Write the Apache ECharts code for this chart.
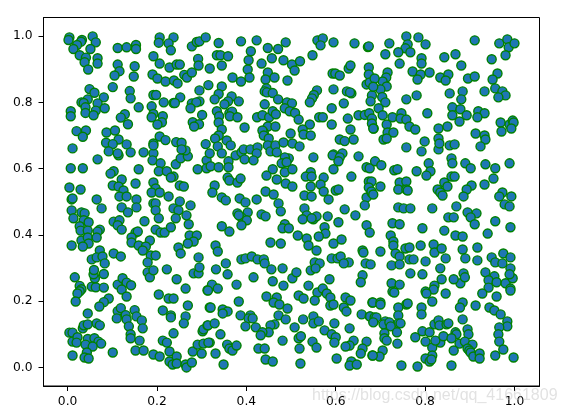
<!DOCTYPE html>
<html>
<head>
<meta charset="utf-8">
<style>
html,body{margin:0;padding:0;background:#fff}
#chart{width:565px;height:414px}
</style>
<script src="https://cdn.jsdelivr.net/npm/echarts@6/dist/echarts.min.js"></script>
</head>
<body>
<div id="chart"></div>
<script>

// values, region by region
const topLeft = [[.004,.996],[.002,.988],[.032,.988],[.030,.983],[.056,.999],[.063,.981],[.021,.973],[.013,.961],[.051,.961],[.027,.942],[.041,.935],[.038,.921],[.067,.933],[.067,.917],[.046,.899],[.112,.964],[.132,.966],[.153,.973],[.153,.961],[.112,.914],[.150,.909],[.116,.894],[.105,.881],[.148,.878],[.101,.846],[.139,.834],[.141,.812],[.159,.785],[.128,.764],[.119,.754],[.135,.734],[.206,.996],[.204,.980],[.237,.996],[.226,.978],[.231,.957],[.192,.939],[.206,.917],[.228,.905],[.244,.914],[.251,.914],[.190,.884],[.201,.872],[.219,.863],[.238,.866],[.246,.857],[.261,.883],[.267,.875],[.278,.890],[.292,.931],[.293,.911],[.278,.969],[.289,.982],[.295,.984],[.309,.996],[.295,.836],[.049,.840],[.060,.829],[.081,.815],[.045,.809],[.031,.800],[.036,.798],[.067,.797],[.083,.782],[.040,.785],[.007,.773],[.007,.758],[.040,.768],[.063,.775],[.058,.761],[.192,.822],[.198,.822],[.215,.800],[.252,.815],[.237,.798],[.240,.798],[.188,.788],[.278,.797],[.295,.803],[.288,.800],[.275,.782],[.301,.762],[.192,.765],[.188,.755],[.213,.758],[.211,.740],[.201,.733],[.280,.740],[.294,.734],[.283,.727],[.020,.713],[.041,.715],[.034,.696],[.087,.709],[.106,.715],[.114,.688],[.206,.697]]

const topMiddle = [[.338,.979],[.388,.984],[.423,.987],[.488,.981],[.448,.964],[.471,.961],[.410,.954],[.334,.942],[.342,.942],[.359,.939],[.405,.927],[.457,.933],[.483,.927],[.434,.917],[.345,.911],[.318,.902],[.403,.899],[.502,.914],[.520,.924],[.508,.896],[.548,.942],[.559,.987],[.571,.993],[.566,.972],[.595,.981],[.642,.978],[.672,.967],[.674,.969],[.448,.890],[.369,.875],[.388,.863],[.407,.875],[.443,.869],[.463,.875],[.492,.866],[.315,.852],[.345,.848],[.338,.825],[.329,.809],[.445,.842],[.441,.833],[.446,.830],[.459,.828],[.367,.818],[.383,.803],[.359,.803],[.351,.794],[.471,.809],[.441,.794],[.491,.800],[.502,.797],[.593,.887],[.599,.887],[.609,.881],[.629,.902],[.633,.911],[.674,.905],[.674,.884],[.669,.854],[.676,.860],[.595,.839],[.558,.836],[.551,.822],[.547,.812],[.542,.800],[.625,.833],[.635,.827],[.632,.830],[.681,.821],[.678,.803],[.618,.797],[.591,.782],[.334,.773],[.362,.767],[.368,.772],[.363,.758],[.380,.755],[.339,.758],[.338,.739],[.424,.755],[.436,.761],[.451,.755],[.459,.773],[.466,.764],[.486,.782],[.497,.773],[.509,.768],[.517,.748],[.563,.755],[.571,.755],[.627,.751],[.651,.761],[.665,.762],[.675,.767],[.681,.751],[.681,.736],[.685,.721],[.591,.733],[.542,.733],[.526,.718],[.528,.703],[.544,.700],[.633,.718],[.640,.688],[.609,.688],[.620,.683],[.396,.724],[.345,.718],[.448,.727],[.465,.727],[.439,.709],[.436,.715],[.439,.700],[.450,.691],[.499,.706],[.338,.700],[.330,.691],[.356,.685]]

const topRight = [[.758,.999],[.785,.996],[.761,.975],[.756,.963],[.720,.978],[.740,.951],[.767,.951],[.801,.975],[.711,.945],[.743,.917],[.792,.933],[.792,.917],[.911,.987],[.966,.978],[.984,.990],[.987,.966],[1.000,.978],[.980,.942],[.949,.930],[.868,.945],[.843,.936],[.881,.911],[.772,.893],[.790,.884],[.810,.890],[.783,.869],[.834,.875],[.852,.884],[.846,.866],[.896,.872],[.911,.878],[.962,.887],[.951,.869],[.716,.890],[.713,.875],[.705,.863],[.714,.848],[.700,.839],[.687,.872],[.684,.847],[.704,.816],[.711,.800],[.696,.782],[.758,.809],[.781,.821],[.855,.827],[.884,.833],[.881,.809],[.933,.833],[.957,.842],[.973,.833],[.980,.821],[.964,.815],[.861,.785],[.879,.779],[.861,.761],[.893,.761],[.877,.742],[.805,.767],[.919,.773],[.933,.767],[.917,.755],[.705,.761],[.727,.755],[.747,.767],[.745,.751],[.758,.748],[.714,.733],[.765,.727],[.778,.718],[.684,.721],[.716,.709],[.729,.709],[.707,.688],[.714,.691],[.830,.721],[.850,.727],[.830,.691],[.799,.682],[.913,.706],[.933,.700],[.935,.688],[.969,.739],[.971,.712],[.989,.733],[.996,.745],[.998,.739],[.993,.721]]

const midLeft = [[.011,.661],[.086,.678],[.101,.674],[.132,.673],[.192,.676],[.219,.686],[.243,.680],[.255,.678],[.309,.674],[.092,.652],[.114,.640],[.112,.646],[.141,.649],[.170,.649],[.192,.646],[.192,.670],[.190,.625],[.067,.628],[.007,.601],[.034,.601],[.159,.598],[.103,.592],[.096,.585],[.208,.616],[.204,.592],[.222,.592],[.242,.613],[.253,.631],[.269,.637],[.264,.655],[.255,.658],[.291,.598],[.311,.625],[.311,.601],[.237,.576],[.231,.573],[.121,.567],[.101,.549],[.114,.546],[.152,.555],[.192,.558],[.004,.543],[.029,.537],[.125,.534],[.197,.540],[.188,.528],[.206,.528],[.226,.516],[.251,.549],[.260,.546],[.116,.516],[.132,.516],[.065,.507],[.009,.507],[.011,.510],[.154,.507],[.154,.483],[.121,.483],[.076,.480],[.135,.468],[.192,.495],[.197,.495],[.197,.474],[.251,.501],[.275,.489],[.237,.480],[.248,.474],[.009,.474],[.013,.450],[.031,.468],[.038,.465],[.036,.444],[.047,.438],[.266,.459],[.242,.450],[.204,.450],[.271,.432],[.103,.440],[.116,.444],[.112,.429],[.121,.416],[.172,.441],[.027,.426],[.029,.413],[.045,.413],[.072,.416],[.067,.410],[.197,.416],[.208,.407],[.217,.407],[.231,.423],[.152,.407],[.157,.410],[.143,.392],[.143,.377],[.159,.368],[.184,.383],[.175,.365],[.168,.353],[.273,.398],[.289,.398],[.282,.380],[.269,.374],[.031,.383],[.045,.392],[.047,.374],[.065,.392],[.009,.368],[.034,.365],[.072,.353],[.248,.362],[.253,.344],[.103,.344],[.119,.335],[.054,.326],[.065,.332],[.078,.335],[.083,.314],[.186,.338],[.197,.338],[.179,.317],[.293,.332]]

const midMiddle = [[.318,.646],[.336,.667],[.345,.646],[.365,.670],[.320,.607],[.338,.604],[.360,.622],[.360,.604],[.376,.640],[.389,.649],[.396,.628],[.394,.658],[.409,.658],[.425,.664],[.423,.646],[.416,.625],[.448,.670],[.454,.652],[.465,.670],[.468,.649],[.483,.679],[.503,.676],[.519,.667],[.550,.634],[.495,.631],[.486,.634],[.479,.616],[.490,.619],[.486,.589],[.503,.598],[.459,.598],[.445,.579],[.468,.567],[.488,.555],[.503,.546],[.595,.643],[.593,.640],[.615,.646],[.609,.634],[.606,.622],[.651,.637],[.595,.598],[.635,.576],[.669,.604],[.676,.601],[.544,.589],[.533,.576],[.546,.576],[.573,.573],[.566,.552],[.544,.546],[.573,.531],[.530,.519],[.546,.516],[.584,.507],[.600,.534],[.606,.537],[.674,.561],[.680,.561],[.674,.543],[.669,.513],[.680,.528],[.665,.489],[.329,.549],[.324,.528],[.358,.573],[.362,.564],[.380,.558],[.387,.570],[.443,.531],[.461,.522],[.345,.513],[.354,.504],[.385,.510],[.398,.498],[.423,.507],[.472,.495],[.477,.471],[.380,.465],[.403,.468],[.389,.453],[.383,.459],[.401,.444],[.389,.429],[.434,.462],[.443,.456],[.345,.426],[.362,.410],[.530,.480],[.535,.459],[.526,.447],[.550,.447],[.557,.456],[.546,.450],[.582,.456],[.620,.477],[.644,.459],[.606,.438],[.486,.432],[.481,.420],[.495,.420],[.575,.423],[.577,.404],[.562,.395],[.515,.398],[.535,.389],[.539,.368],[.557,.353],[.595,.374],[.613,.386],[.454,.377],[.477,.374],[.669,.429],[.676,.407],[.331,.368],[.336,.350],[.660,.353],[.662,.347],[.354,.314],[.389,.326],[.398,.329],[.412,.335],[.425,.326],[.439,.326],[.441,.314],[.591,.329],[.604,.329],[.611,.335],[.629,.317],[.618,.314],[.553,.317],[.564,.314],[.667,.314],[.678,.311]]

const midRight = [[.758,.664],[.792,.652],[.830,.658],[.855,.670],[.866,.673],[.924,.667],[.832,.676],[.859,.631],[.861,.616],[.808,.616],[.890,.616],[.902,.601],[.935,.613],[.957,.601],[.989,.616],[.688,.622],[.702,.610],[.731,.595],[.738,.598],[.781,.592],[.812,.592],[.803,.579],[.859,.576],[.866,.576],[.953,.570],[.700,.546],[.743,.558],[.758,.561],[.740,.537],[.758,.537],[.761,.534],[.843,.558],[.850,.546],[.828,.537],[.834,.528],[.839,.519],[.904,.549],[.893,.537],[.886,.516],[.933,.552],[.973,.528],[.966,.516],[.993,.516],[.978,.492],[.989,.486],[.680,.531],[.684,.522],[.740,.483],[.752,.480],[.767,.480],[.816,.480],[.870,.486],[.895,.468],[.915,.465],[.902,.453],[.852,.453],[.864,.453],[.911,.432],[.957,.441],[.991,.423],[.727,.435],[.743,.432],[.794,.420],[.843,.413],[.940,.404],[.868,.398],[.884,.395],[.723,.398],[.729,.380],[.729,.368],[.700,.350],[.734,.344],[.743,.335],[.756,.359],[.765,.362],[.790,.368],[.819,.371],[.821,.347],[.837,.359],[.846,.329],[.884,.356],[.917,.362],[.765,.326],[.774,.326],[.801,.320],[.890,.329],[.917,.323],[.949,.332],[.957,.317],[.975,.344],[.991,.332],[.973,.314],[.725,.308],[.743,.311]]

const lowLeft = [[.016,.272],[.027,.246],[.031,.236],[.027,.230],[.022,.223],[.018,.199],[.054,.244],[.063,.242],[.081,.241],[.061,.269],[.058,.281],[.059,.294],[.081,.282],[.112,.250],[.123,.269],[.132,.256],[.142,.248],[.121,.235],[.132,.214],[.092,.208],[.081,.197],[.071,.184],[.045,.163],[.034,.118],[.036,.127],[.045,.130],[.065,.133],[.072,.127],[.112,.170],[.119,.179],[.110,.148],[.130,.158],[.132,.145],[.150,.173],[.154,.154],[.166,.142],[.137,.124],[.168,.118],[.141,.100],[.141,.088],[.004,.105],[.011,.105],[.011,.078],[.022,.091],[.020,.075],[.045,.086],[.060,.088],[.069,.078],[.075,.072],[.040,.069],[.056,.063],[.043,.045],[.038,.030],[.047,.027],[.011,.036],[.101,.045],[.161,.081],[.152,.051],[.170,.051],[.192,.039],[.206,.033],[.213,.081],[.222,.075],[.228,.048],[.228,.018],[.235,.009],[.244,.033],[.244,.012],[.264,.009],[.266,.000],[.278,.015],[.280,.048],[.300,.042],[.204,.220],[.226,.208],[.237,.208],[.213,.172],[.231,.157],[.231,.151],[.269,.187],[.264,.154],[.260,.133],[.237,.103],[.302,.109],[.304,.115],[.313,.127],[.291,.069],[.304,.072],[.318,.075],[.179,.287],[.184,.272],[.192,.293],[.222,.296],[.244,.266],[.264,.238],[.282,.284],[.293,.284],[.295,.302],[.313,.233],[.318,.181]]

const lowMiddle = [[.332,.296],[.358,.281],[.323,.250],[.336,.238],[.314,.232],[.378,.250],[.416,.272],[.456,.296],[.481,.299],[.459,.260],[.483,.247],[.503,.269],[.512,.287],[.544,.293],[.555,.299],[.586,.266],[.660,.278],[.656,.257],[.539,.247],[.559,.226],[.571,.238],[.580,.223],[.517,.217],[.528,.208],[.553,.202],[.588,.211],[.588,.187],[.595,.190],[.622,.211],[.633,.202],[.682,.196],[.618,.181],[.624,.169],[.445,.214],[.468,.211],[.461,.196],[.474,.190],[.492,.178],[.383,.199],[.320,.181],[.347,.175],[.358,.169],[.347,.163],[.387,.157],[.409,.157],[.405,.148],[.414,.148],[.398,.124],[.421,.121],[.472,.157],[.488,.145],[.527,.145],[.508,.121],[.550,.154],[.550,.133],[.562,.139],[.597,.133],[.575,.112],[.658,.160],[.676,.154],[.685,.139],[.631,.118],[.463,.130],[.454,.127],[.450,.106],[.436,.106],[.432,.097],[.481,.081],[.517,.088],[.522,.094],[.591,.100],[.600,.091],[.597,.075],[.519,.057],[.548,.078],[.557,.060],[.640,.081],[.631,.066],[.622,.063],[.669,.078],[.660,.057],[.656,.042],[.682,.036],[.314,.127],[.329,.133],[.342,.100],[.315,.075],[.357,.069],[.362,.057],[.369,.051],[.378,.066],[.331,.042],[.349,.009],[.427,.057],[.441,.057],[.443,.024],[.459,.018],[.521,.012],[.602,.027],[.635,.018],[.631,.006],[.647,.009]]

const lowRight = [[.767,.284],[.794,.281],[.834,.299],[.886,.284],[.879,.254],[.889,.272],[.935,.287],[.864,.266],[.837,.266],[.821,.247],[.819,.235],[.801,.229],[.803,.223],[.846,.223],[.816,.199],[.792,.181],[.792,.160],[.758,.190],[.761,.193],[.740,.181],[.740,.157],[.740,.133],[.725,.254],[.743,.250],[.727,.229],[.731,.226],[.955,.275],[.942,.263],[.960,.257],[.942,.241],[.928,.223],[.980,.254],[.991,.238],[.991,.232],[.996,.269],[.991,.299],[.989,.281],[.960,.214],[.884,.196],[.878,.181],[.913,.187],[.944,.181],[.955,.172],[.969,.160],[.884,.145],[.984,.139],[.984,.124],[.966,.121],[.964,.100],[.966,.078],[.975,.054],[.957,.036],[.998,.030],[.683,.196],[.700,.196],[.700,.190],[.677,.154],[.687,.151],[.691,.151],[.684,.136],[.711,.139],[.707,.130],[.720,.136],[.723,.124],[.745,.133],[.737,.106],[.709,.103],[.709,.088],[.714,.081],[.738,.072],[.778,.091],[.794,.109],[.801,.078],[.810,.106],[.816,.060],[.821,.130],[.830,.142],[.832,.127],[.848,.130],[.852,.133],[.834,.075],[.823,.081],[.841,.094],[.868,.106],[.870,.100],[.859,.088],[.895,.115],[.897,.100],[.877,.072],[.889,.078],[.906,.069],[.864,.051],[.895,.057],[.899,.051],[.902,.045],[.908,.033],[.922,.042],[.922,.027],[.816,.036],[.801,.027],[.810,.018],[.814,.024],[.747,.006],[.783,.003],[.859,.006],[.705,.051],[.698,.033],[.683,.036]]

const tickValues = [0, 0.2, 0.4, 0.6, 0.8, 1]
const watermark = "https://blog.csdn.net/qq_41661809"

const allPoints = [].concat(topLeft, topMiddle, topRight, midLeft, midMiddle, midRight, lowLeft, lowMiddle, lowRight)

function axisStyle(labelMargin){
  return {
    axisLine:{onZero:false,lineStyle:{color:"#000",width:1}},
    axisTick:{customValues:tickValues,length:5,lineStyle:{color:"#000",width:1}},
    axisLabel:{
      customValues:tickValues,
      color:"#000",
      fontFamily:"DejaVu Sans",
      fontSize:12.3,
      margin:labelMargin,
      formatter:v => v.toFixed(1)
    },
    splitLine:{show:false}
  }
}

const chart = echarts.init(document.getElementById("chart"))

chart.setOption({
  animation:false,
  backgroundColor:"#fff",
  grid:{
    show:true,
    left:43.5,
    right:25.5,
    top:17.5,
    bottom:28,
    borderColor:"#000",
    borderWidth:1
  },
  xAxis:Object.assign({type:"value",min:-0.054,max:1.056}, axisStyle(10)),
  yAxis:Object.assign({type:"value",min:-0.056,max:1.056}, axisStyle(11)),
  series:[{
    type:"scatter",
    symbol:"circle",
    symbolSize:9,
    itemStyle:{color:"#1f77b4",borderColor:"#008000",borderWidth:1.4,opacity:1},
    data:allPoints
  }],
  graphic:[{
    type:"text",
    left:312,
    top:388,
    z:100,
    style:{
      text:watermark,
      fill:"rgba(190,190,190,0.45)",
      font:"16px 'Liberation Sans'"
    }
  }]
})

</script>
</body>
</html>
